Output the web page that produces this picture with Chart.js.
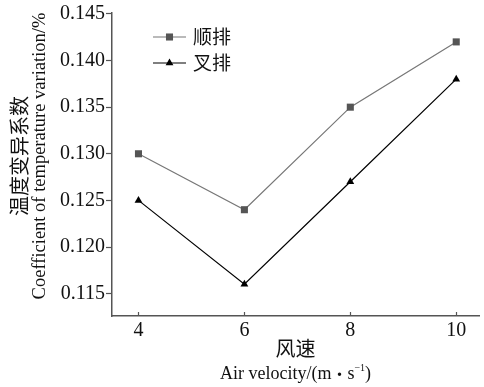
<!DOCTYPE html>
<html>
<head>
<meta charset="utf-8">
<script src="https://cdn.jsdelivr.net/npm/chart.js@4/dist/chart.umd.min.js"></script>
<style>
  html, body { margin: 0; padding: 0; background: #fff; }
  #wrap { width: 484px; height: 387px; }
</style>
</head>
<body>
<div id="wrap"><canvas id="c" width="484" height="387"></canvas></div>
<script>
// Air velocity (m/s) and temperature variation coefficients for the two layouts
const velocities = [4, 6, 8, 10];
const parallelSeries = [0.130, 0.124, 0.135, 0.142];   // 顺排
const staggeredSeries = [0.125, 0.116, 0.127, 0.138];  // 叉排
const yTickValues = [0.115, 0.120, 0.125, 0.130, 0.135, 0.140, 0.145];
const seriesNames = ['顺排', '叉排'];
const xTitleCn = '风速';
const xTitleEn = ['Air velocity/(m', '・', 's', '−1', ')'];
const yTitleCn = '温度变异系数';
const yTitleEn = 'Coefficient of temperature variation/%';

const SERIF = '"Liberation Serif", "Times New Roman", "Noto Sans CJK SC", serif';
const CJK = '"Noto Sans CJK SC", "Liberation Serif", serif';
const AXIS_COLOR = '#555';
const TEXT_COLOR = '#111';

const toPoints = (xs, ys) => xs.map((x, i) => ({ x: x, y: ys[i] }));

// Inward tick marks on the x axis, axis titles and the in-plot legend
const decorations = {
  id: 'decorations',
  afterDraw(chart) {
    const ctx = chart.ctx;
    const xs = chart.scales.x;
    const area = chart.chartArea;
    ctx.save();

    // x ticks pointing into the plot
    ctx.strokeStyle = AXIS_COLOR;
    ctx.lineWidth = 1.2;
    velocities.forEach(v => {
      const px = Math.round(xs.getPixelForValue(v)) + 0.5;
      ctx.beginPath();
      ctx.moveTo(px, area.bottom);
      ctx.lineTo(px, area.bottom - 4);
      ctx.stroke();
    });

    // x axis title (two lines)
    const cx = (area.left + area.right) / 2;
    ctx.fillStyle = TEXT_COLOR;
    ctx.textBaseline = 'middle';
    ctx.textAlign = 'center';
    ctx.font = '20px ' + CJK;
    ctx.fillText(xTitleCn, cx, 348);

    const mainFont = '18px ' + SERIF;
    const dotFont = '16px ' + CJK;
    const supFont = '10px ' + SERIF;
    const parts = [
      { t: xTitleEn[0], f: mainFont, dy: 0 },
      { t: xTitleEn[1], f: dotFont, dy: 0 },
      { t: xTitleEn[2], f: mainFont, dy: 0 },
      { t: xTitleEn[3], f: supFont, dy: -6 },
      { t: xTitleEn[4], f: mainFont, dy: 0 }
    ];
    let total = 0;
    parts.forEach(p => { ctx.font = p.f; p.w = ctx.measureText(p.t).width; total += p.w; });
    let x0 = cx - total / 2;
    ctx.textAlign = 'left';
    parts.forEach(p => {
      ctx.font = p.f;
      ctx.fillText(p.t, x0, 374 + p.dy);
      x0 += p.w;
    });

    // y axis title (two rotated lines)
    ctx.save();
    ctx.translate(0, 156);
    ctx.rotate(-Math.PI / 2);
    ctx.textAlign = 'center';
    ctx.textBaseline = 'middle';
    ctx.font = '20px ' + CJK;
    ctx.fillText(yTitleCn, 0, 19);
    ctx.font = '18.5px ' + SERIF;
    ctx.fillText(yTitleEn, 0, 40);
    ctx.restore();

    // legend
    const rows = [37, 63];
    chart.data.datasets.forEach((ds, i) => {
      const y = rows[i];
      ctx.strokeStyle = ds.borderColor;
      ctx.lineWidth = ds.borderWidth;
      ctx.beginPath();
      ctx.moveTo(153, y);
      ctx.lineTo(186, y);
      ctx.stroke();
      ctx.fillStyle = ds.pointBackgroundColor;
      ctx.strokeStyle = ds.pointBorderColor;
      Chart.helpers.drawPoint(ctx, {
        pointStyle: ds.pointStyle, rotation: 0,
        radius: ds.pointRadius, borderWidth: 0
      }, 169.5, y);
      ctx.fillStyle = TEXT_COLOR;
      ctx.font = '19px ' + CJK;
      ctx.textAlign = 'left';
      ctx.textBaseline = 'middle';
      ctx.fillText(seriesNames[i], 193, y);
    });
    ctx.restore();
  }
};

new Chart(document.getElementById('c'), {
  type: 'line',
  data: {
    datasets: [
      {
        label: seriesNames[0],
        data: toPoints(velocities, parallelSeries),
        borderColor: '#777',
        borderWidth: 1.2,
        pointStyle: 'rect',
        pointRadius: 5,
        pointBackgroundColor: '#555',
        pointBorderColor: '#555',
        pointBorderWidth: 0,
        tension: 0,
        fill: false
      },
      {
        label: seriesNames[1],
        data: toPoints(velocities, staggeredSeries),
        borderColor: '#000',
        borderWidth: 1.2,
        pointStyle: 'triangle',
        pointRadius: 4.5,
        pointBackgroundColor: '#000',
        pointBorderColor: '#000',
        pointBorderWidth: 0,
        tension: 0,
        fill: false
      }
    ]
  },
  options: {
    responsive: false,
    animation: false,
    layout: { padding: { top: 13, right: 1, left: 0, bottom: 0 } },
    plugins: { legend: { display: false }, tooltip: { enabled: false } },
    scales: {
      x: {
        type: 'linear',
        min: 3.5,
        max: 10.43,
        afterBuildTicks: s => { s.ticks = velocities.map(v => ({ value: v })); },
        afterFit: s => { s.height = 71; },
        grid: { drawOnChartArea: false, drawTicks: false, color: AXIS_COLOR },
        border: { color: AXIS_COLOR, width: 1.5 },
        ticks: {
          color: TEXT_COLOR,
          font: { family: SERIF, size: 20 },
          padding: 3,
          maxRotation: 0,
          callback: v => String(v)
        }
      },
      y: {
        type: 'linear',
        min: 0.1126,
        max: 0.1451,
        afterBuildTicks: s => { s.ticks = yTickValues.map(v => ({ value: v })); },
        afterFit: s => { s.width = 112; },
        grid: { drawOnChartArea: false, drawTicks: true, tickLength: 6, color: AXIS_COLOR, tickWidth: 1.2 },
        border: { color: AXIS_COLOR, width: 1.5 },
        ticks: {
          color: TEXT_COLOR,
          font: { family: SERIF, size: 20 },
          padding: 1,
          callback: v => Number(v).toFixed(3)
        }
      }
    }
  },
  plugins: [decorations]
});
</script>
</body>
</html>
